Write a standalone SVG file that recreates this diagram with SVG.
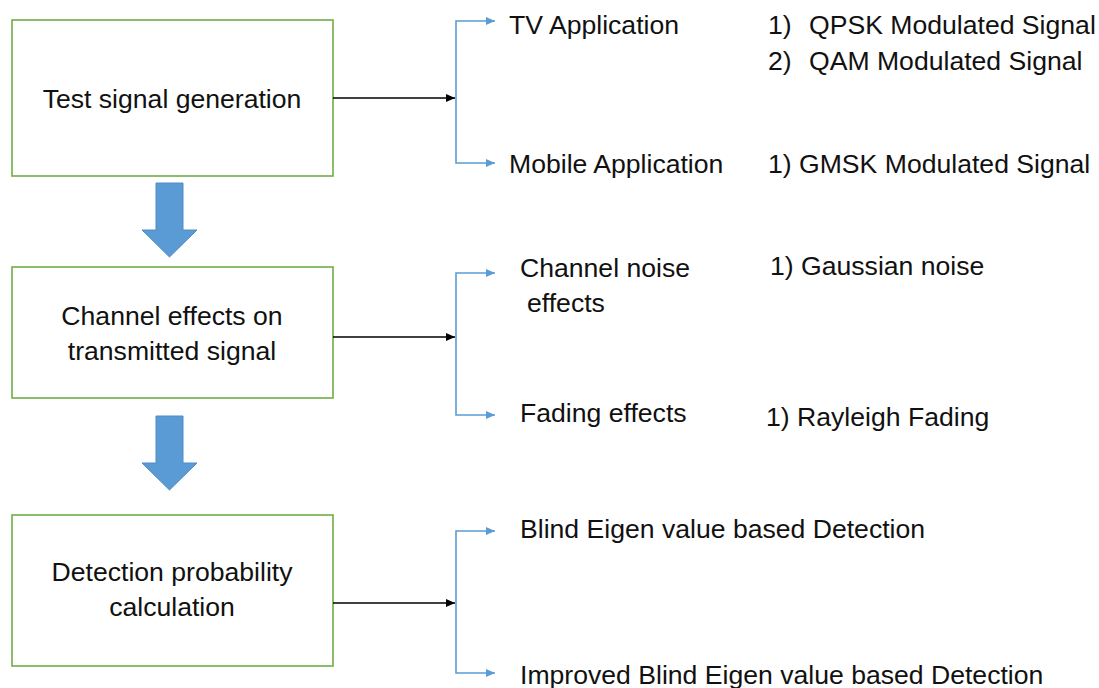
<svg xmlns="http://www.w3.org/2000/svg" width="1099" height="688" viewBox="0 0 1099 688">
  <style>
    .box { fill: #ffffff; stroke: #70AD47; stroke-width: 1.6; }
    .lbl { font-family: "Liberation Sans", Arial, sans-serif; font-size: 26.6px; fill: #111111; }
    .mid { text-anchor: middle; }
    .flow { fill: none; stroke: #000000; stroke-width: 1.5; }
    .branch { fill: none; stroke: #5B9BD5; stroke-width: 1.6; }
    .block { fill: #5B9BD5; stroke: #4F8CC4; stroke-width: 1; }
  </style>
  <defs>
    <marker id="headBlack" markerUnits="userSpaceOnUse" markerWidth="10" markerHeight="8" refX="9" refY="4" orient="auto">
      <path d="M0,0 L9,4 L0,8 z" fill="#000000"/>
    </marker>
    <marker id="headBlue" markerUnits="userSpaceOnUse" markerWidth="10" markerHeight="8" refX="9" refY="4" orient="auto">
      <path d="M0,0 L9,4 L0,8 z" fill="#5B9BD5"/>
    </marker>
  </defs>

  <rect width="1099" height="688" fill="#ffffff"/>

  <!-- process stages -->
  <g id="stage-generation">
    <rect class="box" x="12" y="20" width="321" height="156"/>
    <text class="lbl mid" x="172" y="108">Test signal generation</text>
  </g>
  <g id="stage-channel">
    <rect class="box" x="12" y="267" width="321" height="131"/>
    <text class="lbl mid" x="172" y="325">Channel effects on</text>
    <text class="lbl mid" x="172" y="360">transmitted signal</text>
  </g>
  <g id="stage-detection">
    <rect class="box" x="12" y="515" width="321" height="151"/>
    <text class="lbl mid" x="172" y="581">Detection probability</text>
    <text class="lbl mid" x="172" y="616">calculation</text>
  </g>

  <!-- branch targets -->
  <g id="tv-app">
    <text class="lbl" x="509" y="34">TV Application</text>
  </g>
  <g id="tv-signals">
    <text class="lbl" x="768" y="34">1)<tspan x="809">QPSK Modulated Signal</tspan></text>
    <text class="lbl" x="768" y="70">2)<tspan x="809">QAM Modulated Signal</tspan></text>
  </g>
  <g id="mobile-app">
    <text class="lbl" x="509" y="173">Mobile Application</text>
  </g>
  <g id="mobile-signals">
    <text class="lbl" x="768" y="173">1) GMSK Modulated Signal</text>
  </g>
  <g id="noise-effects">
    <text class="lbl" x="520" y="277">Channel noise</text>
    <text class="lbl" x="527" y="312">effects</text>
  </g>
  <g id="noise-type">
    <text class="lbl" x="770" y="275">1) Gaussian noise</text>
  </g>
  <g id="fading-effects">
    <text class="lbl" x="520" y="422">Fading effects</text>
  </g>
  <g id="fading-type">
    <text class="lbl" x="766" y="426">1) Rayleigh Fading</text>
  </g>
  <g id="blind-detection">
    <text class="lbl" x="520" y="538">Blind Eigen value based Detection</text>
  </g>
  <g id="improved-detection">
    <text class="lbl" x="520" y="684">Improved Blind Eigen value based Detection</text>
  </g>

  <!-- connectors -->
  <g id="connectors">
    <!-- stage to stage block arrows -->
    <polygon class="block" points="156,183 183,183 183,230 197,230 169.5,257 142,230 156,230"/>
    <polygon class="block" points="156,416 183,416 183,463 197,463 169.5,490 142,463 156,463"/>

    <!-- stage outputs -->
    <line class="flow" x1="333" y1="98" x2="455" y2="98" marker-end="url(#headBlack)"/>
    <line class="flow" x1="333" y1="337" x2="455" y2="337" marker-end="url(#headBlack)"/>
    <line class="flow" x1="333" y1="603" x2="455" y2="603" marker-end="url(#headBlack)"/>

    <!-- branch brackets -->
    <path class="branch" d="M456,98 V21 H495" marker-end="url(#headBlue)"/>
    <path class="branch" d="M456,98 V163 H495" marker-end="url(#headBlue)"/>
    <path class="branch" d="M456,337 V273 H495" marker-end="url(#headBlue)"/>
    <path class="branch" d="M456,337 V415 H495" marker-end="url(#headBlue)"/>
    <path class="branch" d="M456,603 V531 H495" marker-end="url(#headBlue)"/>
    <path class="branch" d="M456,603 V673 H495" marker-end="url(#headBlue)"/>
  </g>
</svg>
